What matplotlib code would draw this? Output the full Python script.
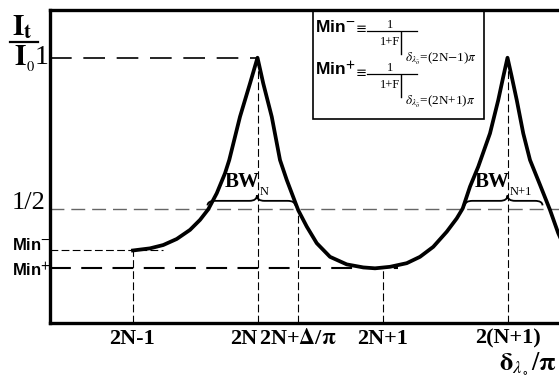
import matplotlib
matplotlib.use('Agg')
import matplotlib.pyplot as plt
from matplotlib.path import Path
from matplotlib.patches import PathPatch, Rectangle
from matplotlib.lines import Line2D

plt.rcParams['mathtext.fontset'] = 'stix'
SERIF = 'Liberation Serif'
SANS = 'Liberation Sans'

# transmission curve: x in units of pi, y = It/I0
delta = [1.004, 1.14, 1.246, 1.354, 1.46, 1.54, 1.606, 1.674, 1.74, 1.774, 1.86, 1.94, 2.0,
         2.046, 2.114, 2.18, 2.234, 2.326, 2.394, 2.474, 2.58, 2.714, 2.846, 2.94, 3.06,
         3.194, 3.3, 3.406, 3.514, 3.594, 3.642, 3.7, 3.766, 3.86, 3.926, 3.966, 4.0,
         4.034, 4.074, 4.126, 4.18, 4.26, 4.34, 4.406, 4.45]
trans = [0.363, 0.370, 0.381, 0.401, 0.431, 0.464, 0.499, 0.552, 0.618, 0.662, 0.805, 0.915, 1.0,
         0.915, 0.805, 0.662, 0.596, 0.496, 0.442, 0.387, 0.342, 0.317, 0.307, 0.304, 0.309,
         0.321, 0.342, 0.375, 0.425, 0.469, 0.502, 0.574, 0.64, 0.75, 0.86, 0.937, 1.0,
         0.937, 0.86, 0.75, 0.662, 0.58, 0.497, 0.42, 0.38]

# levels
peak = 1.0
half = 0.5
min_minus = 0.363
min_plus = 0.305

# x ticks
tick_pos = [1.0, 2.0, 2.326, 3.0, 4.0]
tick_lab = ['2N-1', '2N', r'2N+$\mathbf{\Delta}$/$\mathbf{\pi}$', '2N+1', '2(N+1)']

# bandwidth braces (start, centre, end) and labels
bw_spans = [(1.60, 1.995, 2.30), (3.66, 4.0, 4.28)]
bw_subs = ['N', 'N+1']

W, H = 559, 377
fig = plt.figure(figsize=(W / 100, H / 100), dpi=100)
ax = fig.add_axes([50 / W, 1 - 323 / H, 1 - 50 / W, (323 - 10) / H])
x0, x1 = 0.34, 4.412
y0, y1 = 0.1233, 1.1577
ax.set_xlim(x0, x1)
ax.set_ylim(y0, y1)

for s in ['left', 'top', 'bottom']:
    ax.spines[s].set_linewidth(2.4)
ax.spines['right'].set_visible(False)
ax.set_yticks([])
ax.set_xticks(tick_pos, tick_lab)
ax.tick_params(axis='x', length=0, pad=4, labelsize=16)
for t in ax.get_xticklabels():
    t.set_fontfamily(SERIF)
    t.set_fontweight('bold')
ax.get_xticklabels()[1].set_horizontalalignment('right')

thin = dict(color='black', lw=0.8, dashes=(7, 3))
# guide lines
ax.plot([x0, 2.0], [peak, peak], color='black', lw=1.2, dashes=(13, 7))
ax.plot([x0, x1], [half, half], color='#666666', lw=1.0, dashes=(10, 5))
ax.plot([x0, 1.24], [min_minus, min_minus], **thin)
ax.plot([x0, 3.12], [min_plus, min_plus], color='black', lw=1.5, dashes=(10, 5))
ax.plot([1.0, 1.0], [y0, min_minus], **thin)
ax.plot([2.0, 2.0], [y0, peak], **thin)
ax.plot([2.326, 2.326], [y0, half], **thin)
ax.plot([3.0, 3.0], [y0, min_plus], **thin)
ax.plot([4.0, 4.0], [y0, peak], **thin)

ax.plot(delta, trans, color='black', lw=2.7, zorder=5, clip_on=True)

# braces
def brace(a, c, b, ye, yb, yt):
    q = 0.06
    verts = [(a, ye), (a, yb), (a + q, yb), (c - q, yb), (c, yb), (c, yt),
             (c, yb), (c + q, yb), (b - q, yb), (b, yb), (b, ye)]
    codes = [Path.MOVETO, Path.CURVE3, Path.CURVE3, Path.LINETO, Path.CURVE3, Path.CURVE3,
             Path.CURVE3, Path.CURVE3, Path.LINETO, Path.CURVE3, Path.CURVE3]
    ax.add_patch(PathPatch(Path(verts, codes), fill=False, lw=1.3, color='black', zorder=6))

for (a, c, b), sub in zip(bw_spans, bw_subs):
    brace(a, c, b, 0.512, 0.527, 0.545)
    ax.text(c - 0.26, 0.59, 'BW', fontfamily=SERIF, fontweight='bold', fontsize=15,
            ha='left', va='center', zorder=7)
    ax.text(c + 0.02, 0.555, sub, fontfamily=SERIF, fontsize=9, ha='left', va='center', zorder=7)


def P(px, py):
    return px / W, 1 - py / H


def ftext(px, py, s, **kw):
    fig.text(*P(px, py), s, **kw)


def fline(pxs, pys, **kw):
    fig.add_artist(Line2D([p / W for p in pxs], [1 - p / H for p in pys], color='black', **kw))


# y axis title It / I0
ftext(12, 27, r'$\mathbf{I}_{\mathbf{t}}$', fontsize=21, ha='left', va='center')
fline([10, 38], [42, 42], lw=1.6)
ftext(14, 59, r'$\mathbf{I}_{_0}$', fontsize=21, ha='left', va='center')
ftext(48, 57, '1', fontfamily=SERIF, fontsize=20, ha='right', va='center')
ftext(46, 203, '1/2', fontfamily=SERIF, fontsize=19, ha='right', va='center')

# Min labels on the left
ftext(12, 245, r'Min$^{\mathbf{-}}$', fontfamily=SANS, fontweight='bold', fontsize=12,
      ha='left', va='center')
ftext(12, 271, r'Min$^{\mathbf{+}}$', fontfamily=SANS, fontweight='bold', fontsize=12,
      ha='left', va='center')

# definition box
fig.add_artist(Rectangle(P(313, 119), (484 - 313) / W, (119 - 11) / H, fill=False,
                         lw=1.2, edgecolor='black', transform=fig.transFigure))
for yc, sign, sub in [(27, '-', r'$\delta_{\lambda_{\bar o}}$=(2N$-$1)$\pi$'),
                      (70, '+', r'$\delta_{\lambda_{\bar o}}$=(2N+1)$\pi$')]:
    ftext(315, yc, r'Min$^{\mathbf{%s}}$' % sign, fontfamily=SANS, fontweight='bold',
          fontsize=12.5, ha='left', va='center')
    ftext(361, yc + 3, '\u2261', fontfamily='DejaVu Sans', fontsize=9.5, ha='center', va='center')
    fline([367, 417], [yc + 4, yc + 4], lw=0.9)
    ftext(390, yc - 2, '1', fontfamily=SERIF, fontsize=9, ha='center', va='center')
    ftext(390, yc + 15, '1+F', fontfamily=SERIF, fontsize=9, ha='center', va='center')
    fline([401, 401], [yc + 5, yc + 27], lw=1.0)
    ftext(405, yc + 32, sub, fontfamily=SERIF, fontsize=9.5, ha='left', va='center')

# x axis title
ftext(557, 376, r'$\mathbf{\delta}_{\lambda_\circ}/\mathbf{\pi}$', fontsize=19, ha='right', va='bottom')

fig.savefig('out.png', dpi=100)
